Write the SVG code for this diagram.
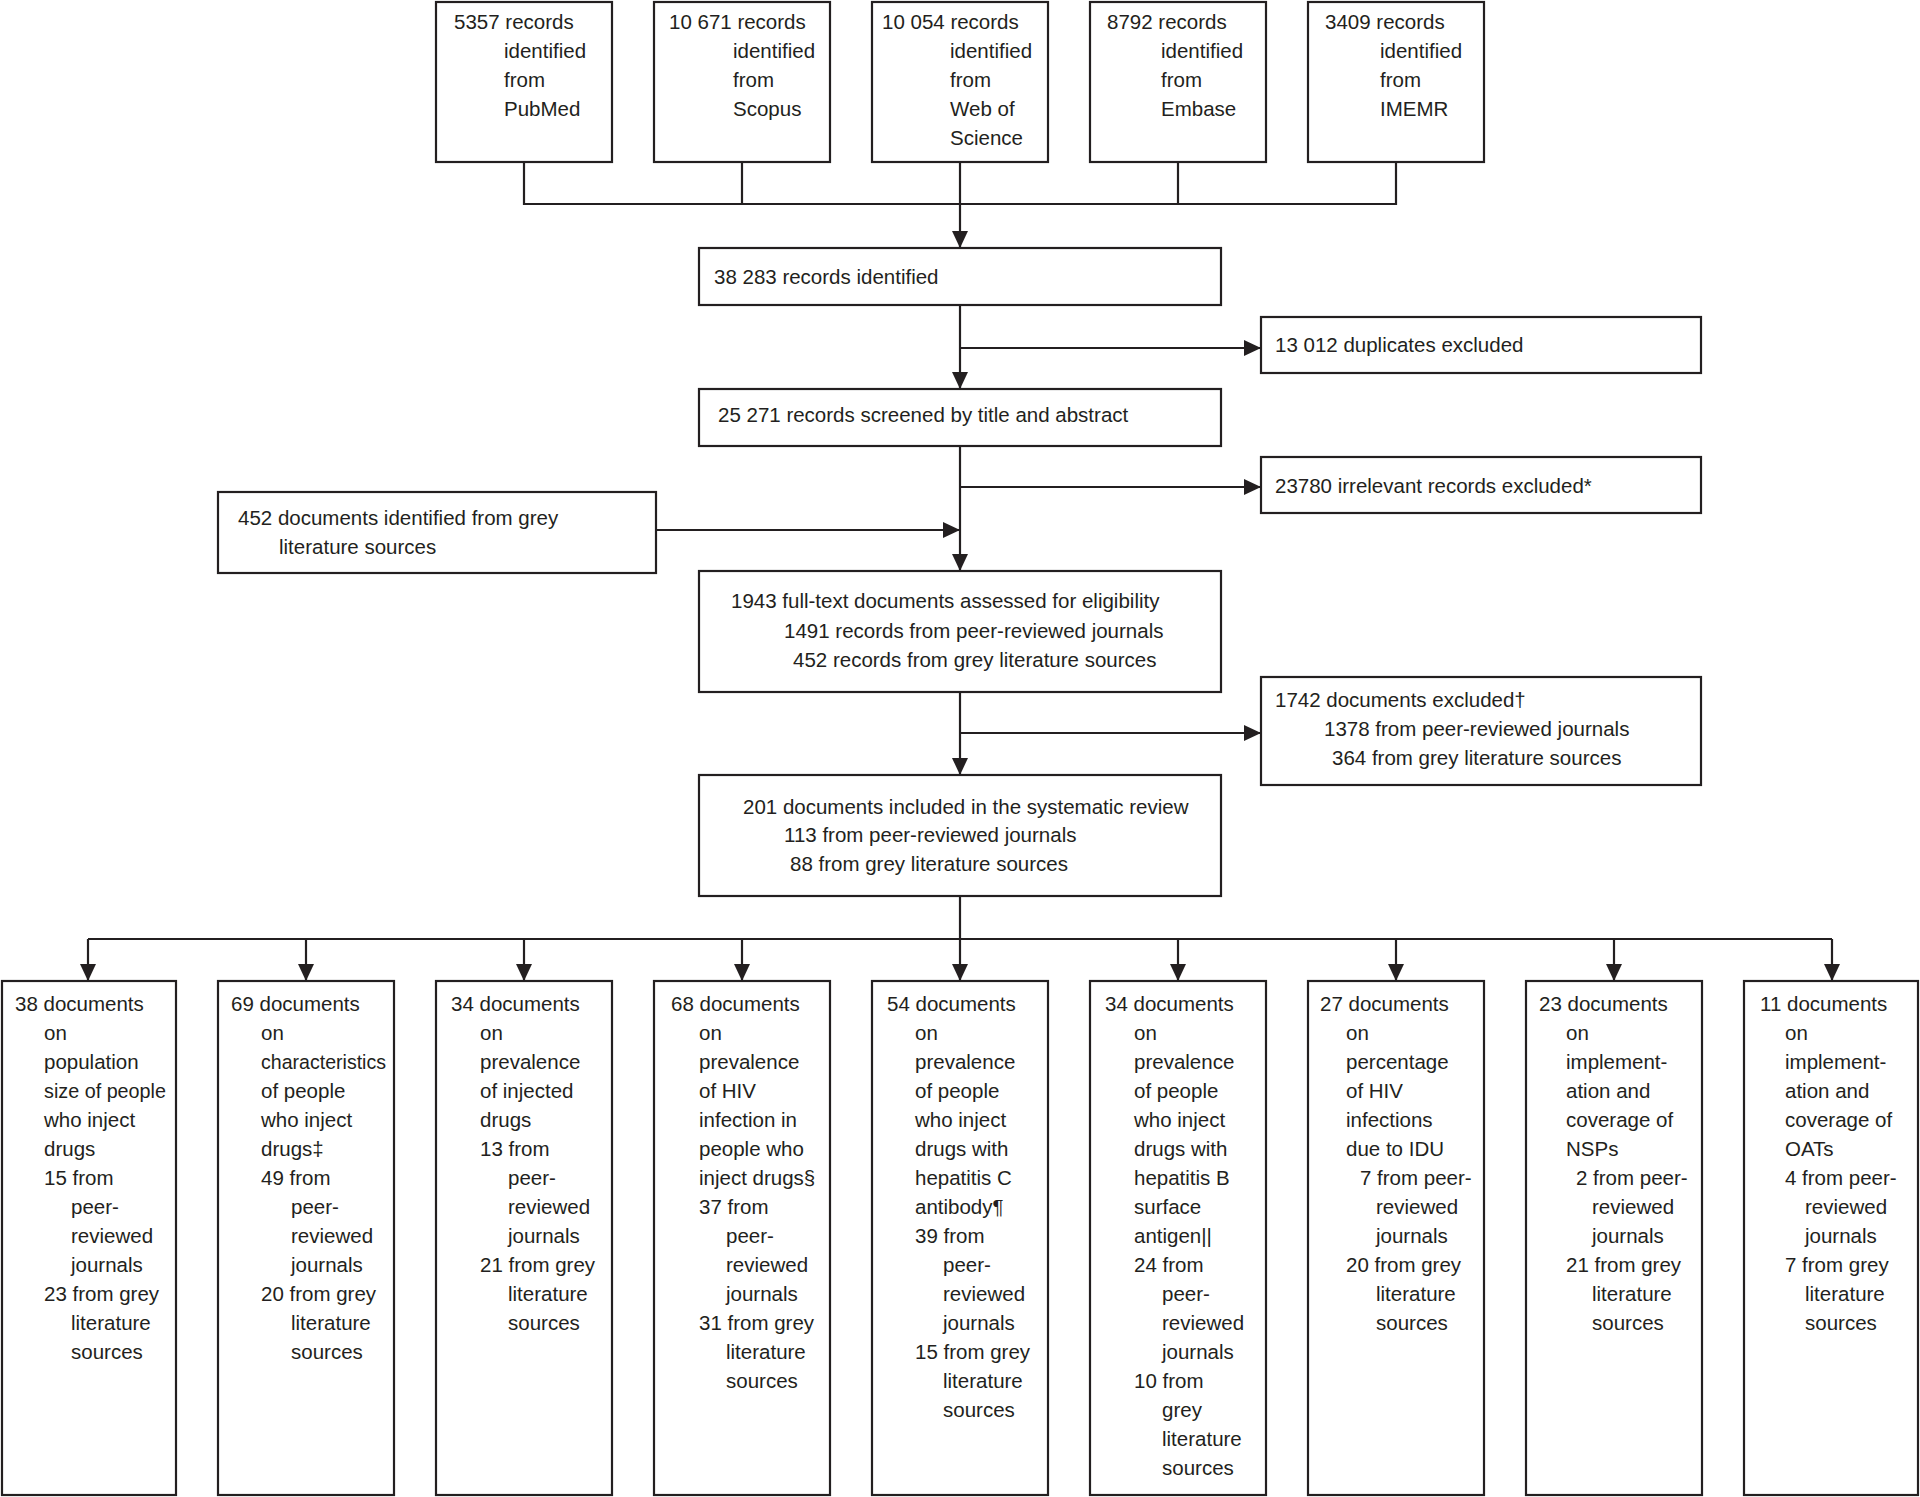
<svg xmlns="http://www.w3.org/2000/svg" width="1920" height="1497" viewBox="0 0 1920 1497">
<style>
rect.b{fill:#fff;stroke:#231f20;stroke-width:2.2}
text{font-family:"Liberation Sans",Arial,sans-serif;font-size:20.5px;fill:#231f20}
.c{fill:none;stroke:#231f20;stroke-width:2.2}
</style>
<defs>
<marker id="ah" markerUnits="userSpaceOnUse" markerWidth="18" markerHeight="16" refX="17" refY="8" orient="auto">
<path d="M0,0 L17,8 L0,16 z" fill="#231f20"/>
</marker>
</defs>
<rect width="1920" height="1497" fill="#fff"/>
<g id="connectors">
<path class="c" d="M524,162 V204 H1396 V162 M742,162 V204 M1178,162 V204"/>
<line class="c" x1="960" y1="162" x2="960" y2="248" marker-end="url(#ah)"/>
<line class="c" x1="960" y1="305" x2="960" y2="389" marker-end="url(#ah)"/>
<line class="c" x1="960" y1="348" x2="1261" y2="348" marker-end="url(#ah)"/>
<line class="c" x1="960" y1="446" x2="960" y2="571" marker-end="url(#ah)"/>
<line class="c" x1="960" y1="487" x2="1261" y2="487" marker-end="url(#ah)"/>
<line class="c" x1="656" y1="530" x2="960" y2="530" marker-end="url(#ah)"/>
<line class="c" x1="960" y1="692" x2="960" y2="775" marker-end="url(#ah)"/>
<line class="c" x1="960" y1="733" x2="1261" y2="733" marker-end="url(#ah)"/>
<path class="c" d="M960,896 V939 M88,939 H1832"/>
<line class="c" x1="88" y1="939" x2="88" y2="981" marker-end="url(#ah)"/>
<line class="c" x1="306" y1="939" x2="306" y2="981" marker-end="url(#ah)"/>
<line class="c" x1="524" y1="939" x2="524" y2="981" marker-end="url(#ah)"/>
<line class="c" x1="742" y1="939" x2="742" y2="981" marker-end="url(#ah)"/>
<line class="c" x1="960" y1="939" x2="960" y2="981" marker-end="url(#ah)"/>
<line class="c" x1="1178" y1="939" x2="1178" y2="981" marker-end="url(#ah)"/>
<line class="c" x1="1396" y1="939" x2="1396" y2="981" marker-end="url(#ah)"/>
<line class="c" x1="1614" y1="939" x2="1614" y2="981" marker-end="url(#ah)"/>
<line class="c" x1="1832" y1="939" x2="1832" y2="981" marker-end="url(#ah)"/>
</g>
<g id="pubmed"><rect class="b" x="436" y="2" width="176" height="160"/>
<text x="454" y="29">5357 records</text><text x="504" y="58">identified</text><text x="504" y="87">from</text><text x="504" y="116">PubMed</text></g>
<g id="scopus"><rect class="b" x="654" y="2" width="176" height="160"/>
<text x="669" y="29">10 671 records</text><text x="733" y="58">identified</text><text x="733" y="87">from</text><text x="733" y="116">Scopus</text></g>
<g id="wos"><rect class="b" x="872" y="2" width="176" height="160"/>
<text x="882" y="29">10 054 records</text><text x="950" y="58">identified</text><text x="950" y="87">from</text><text x="950" y="116">Web of</text><text x="950" y="145">Science</text></g>
<g id="embase"><rect class="b" x="1090" y="2" width="176" height="160"/>
<text x="1107" y="29">8792 records</text><text x="1161" y="58">identified</text><text x="1161" y="87">from</text><text x="1161" y="116">Embase</text></g>
<g id="imemr"><rect class="b" x="1308" y="2" width="176" height="160"/>
<text x="1325" y="29">3409 records</text><text x="1380" y="58">identified</text><text x="1380" y="87">from</text><text x="1380" y="116">IMEMR</text></g>
<g id="identified"><rect class="b" x="699" y="248" width="522" height="57"/>
<text x="714" y="284">38 283 records identified</text></g>
<g id="duplicates"><rect class="b" x="1261" y="317" width="440" height="56"/>
<text x="1275" y="352">13 012 duplicates excluded</text></g>
<g id="screened"><rect class="b" x="699" y="389" width="522" height="57"/>
<text x="718" y="422">25 271 records screened by title and abstract</text></g>
<g id="irrelevant"><rect class="b" x="1261" y="457" width="440" height="56"/>
<text x="1275" y="493">23780 irrelevant records excluded*</text></g>
<g id="grey"><rect class="b" x="218" y="492" width="438" height="81"/>
<text x="238" y="525">452 documents identified from grey</text><text x="279" y="554">literature sources</text></g>
<g id="fulltext"><rect class="b" x="699" y="571" width="522" height="121"/>
<text x="731" y="608">1943 full-text documents assessed for eligibility</text>
<text x="784" y="638">1491 records from peer-reviewed journals</text>
<text x="793" y="667">452 records from grey literature sources</text></g>
<g id="excluded"><rect class="b" x="1261" y="677" width="440" height="108"/>
<text x="1275" y="707">1742 documents excluded†</text>
<text x="1324" y="736">1378 from peer-reviewed journals</text>
<text x="1332" y="765">364 from grey literature sources</text></g>
<g id="included"><rect class="b" x="699" y="775" width="522" height="121"/>
<text x="743" y="814">201 documents included in the systematic review</text>
<text x="784" y="842">113 from peer-reviewed journals</text>
<text x="790" y="871">88 from grey literature sources</text></g>
<g id="b1"><rect class="b" x="2" y="981" width="174" height="514"/>
<text x="15" y="1011">38 documents</text><text x="44" y="1040">on</text><text x="44" y="1069">population</text><text x="44" y="1098" textLength="122" lengthAdjust="spacingAndGlyphs">size of people</text><text x="44" y="1127">who inject</text><text x="44" y="1156">drugs</text><text x="44" y="1185">15 from</text><text x="71" y="1214">peer-</text><text x="71" y="1243">reviewed</text><text x="71" y="1272">journals</text><text x="44" y="1301">23 from grey</text><text x="71" y="1330">literature</text><text x="71" y="1359">sources</text></g>
<g id="b2"><rect class="b" x="218" y="981" width="176" height="514"/>
<text x="231" y="1011">69 documents</text><text x="261" y="1040">on</text><text x="261" y="1069" textLength="125" lengthAdjust="spacingAndGlyphs">characteristics</text><text x="261" y="1098">of people</text><text x="261" y="1127">who inject</text><text x="261" y="1156">drugs‡</text><text x="261" y="1185">49 from</text><text x="291" y="1214">peer-</text><text x="291" y="1243">reviewed</text><text x="291" y="1272">journals</text><text x="261" y="1301">20 from grey</text><text x="291" y="1330">literature</text><text x="291" y="1359">sources</text></g>
<g id="b3"><rect class="b" x="436" y="981" width="176" height="514"/>
<text x="451" y="1011">34 documents</text><text x="480" y="1040">on</text><text x="480" y="1069">prevalence</text><text x="480" y="1098">of injected</text><text x="480" y="1127">drugs</text><text x="480" y="1156">13 from</text><text x="508" y="1185">peer-</text><text x="508" y="1214">reviewed</text><text x="508" y="1243">journals</text><text x="480" y="1272">21 from grey</text><text x="508" y="1301">literature</text><text x="508" y="1330">sources</text></g>
<g id="b4"><rect class="b" x="654" y="981" width="176" height="514"/>
<text x="671" y="1011">68 documents</text><text x="699" y="1040">on</text><text x="699" y="1069">prevalence</text><text x="699" y="1098">of HIV</text><text x="699" y="1127">infection in</text><text x="699" y="1156">people who</text><text x="699" y="1185">inject drugs§</text><text x="699" y="1214">37 from</text><text x="726" y="1243">peer-</text><text x="726" y="1272">reviewed</text><text x="726" y="1301">journals</text><text x="699" y="1330">31 from grey</text><text x="726" y="1359">literature</text><text x="726" y="1388">sources</text></g>
<g id="b5"><rect class="b" x="872" y="981" width="176" height="514"/>
<text x="887" y="1011">54 documents</text><text x="915" y="1040">on</text><text x="915" y="1069">prevalence</text><text x="915" y="1098">of people</text><text x="915" y="1127">who inject</text><text x="915" y="1156">drugs with</text><text x="915" y="1185">hepatitis C</text><text x="915" y="1214">antibody¶</text><text x="915" y="1243">39 from</text><text x="943" y="1272">peer-</text><text x="943" y="1301">reviewed</text><text x="943" y="1330">journals</text><text x="915" y="1359">15 from grey</text><text x="943" y="1388">literature</text><text x="943" y="1417">sources</text></g>
<g id="b6"><rect class="b" x="1090" y="981" width="176" height="514"/>
<text x="1105" y="1011">34 documents</text><text x="1134" y="1040">on</text><text x="1134" y="1069">prevalence</text><text x="1134" y="1098">of people</text><text x="1134" y="1127">who inject</text><text x="1134" y="1156">drugs with</text><text x="1134" y="1185">hepatitis B</text><text x="1134" y="1214">surface</text><text x="1134" y="1243">antigen||</text><text x="1134" y="1272">24 from</text><text x="1162" y="1301">peer-</text><text x="1162" y="1330">reviewed</text><text x="1162" y="1359">journals</text><text x="1134" y="1388">10 from</text><text x="1162" y="1417">grey</text><text x="1162" y="1446">literature</text><text x="1162" y="1475">sources</text></g>
<g id="b7"><rect class="b" x="1308" y="981" width="176" height="514"/>
<text x="1320" y="1011">27 documents</text><text x="1346" y="1040">on</text><text x="1346" y="1069">percentage</text><text x="1346" y="1098">of HIV</text><text x="1346" y="1127">infections</text><text x="1346" y="1156">due to IDU</text><text x="1360" y="1185">7 from peer-</text><text x="1376" y="1214">reviewed</text><text x="1376" y="1243">journals</text><text x="1346" y="1272">20 from grey</text><text x="1376" y="1301">literature</text><text x="1376" y="1330">sources</text></g>
<g id="b8"><rect class="b" x="1526" y="981" width="176" height="514"/>
<text x="1539" y="1011">23 documents</text><text x="1566" y="1040">on</text><text x="1566" y="1069">implement-</text><text x="1566" y="1098">ation and</text><text x="1566" y="1127">coverage of</text><text x="1566" y="1156">NSPs</text><text x="1576" y="1185">2 from peer-</text><text x="1592" y="1214">reviewed</text><text x="1592" y="1243">journals</text><text x="1566" y="1272">21 from grey</text><text x="1592" y="1301">literature</text><text x="1592" y="1330">sources</text></g>
<g id="b9"><rect class="b" x="1744" y="981" width="174" height="514"/>
<text x="1760" y="1011">11 documents</text><text x="1785" y="1040">on</text><text x="1785" y="1069">implement-</text><text x="1785" y="1098">ation and</text><text x="1785" y="1127">coverage of</text><text x="1785" y="1156">OATs</text><text x="1785" y="1185">4 from peer-</text><text x="1805" y="1214">reviewed</text><text x="1805" y="1243">journals</text><text x="1785" y="1272">7 from grey</text><text x="1805" y="1301">literature</text><text x="1805" y="1330">sources</text></g>
</svg>
